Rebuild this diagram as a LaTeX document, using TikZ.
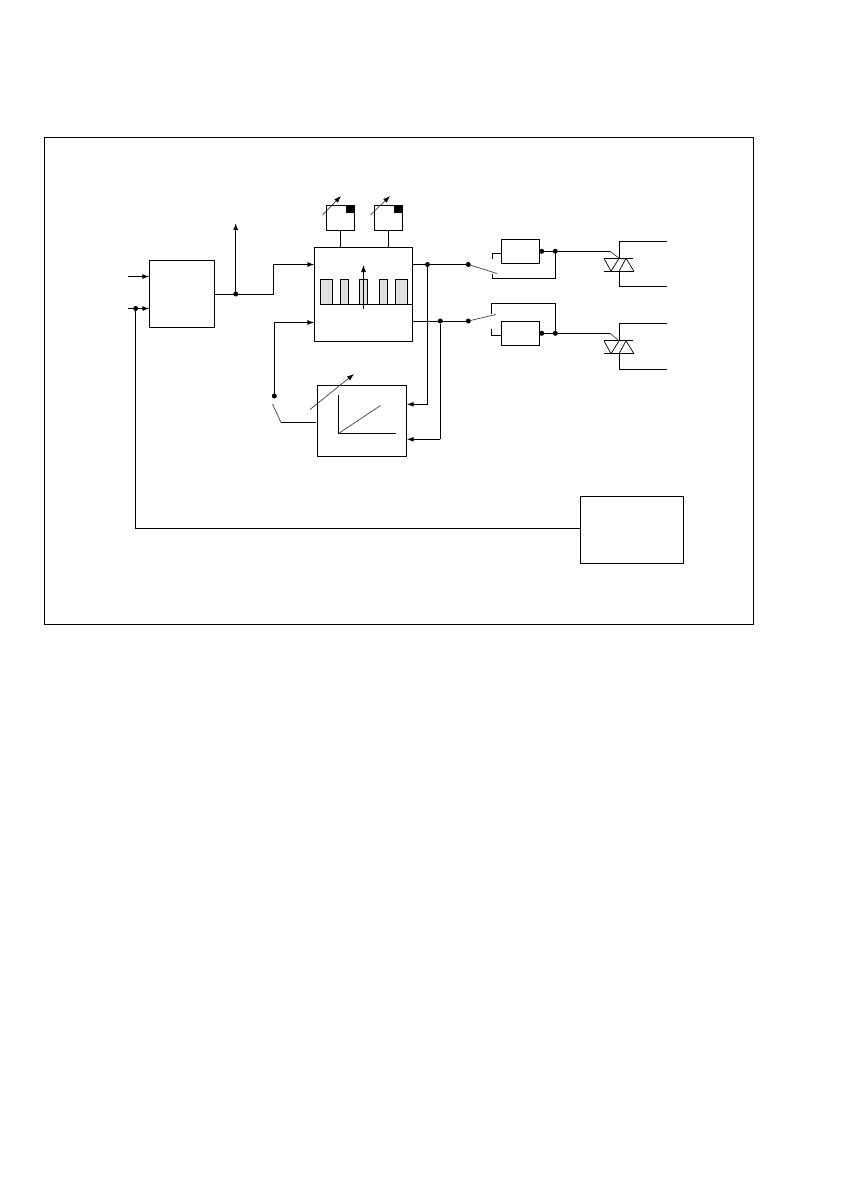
\documentclass[tikz,border=0pt]{standalone}
\usetikzlibrary{arrows.meta}
\tikzset{
  blk/.style={draw=black,line width=1pt,inner sep=0pt,outer sep=0pt,fill=white},
  bar/.style={draw=black,line width=0.9pt,fill=black!12,inner sep=0pt,outer sep=0pt,minimum height=25pt},
  knob/.style={fill=black,inner sep=0pt,outer sep=0pt,minimum width=9pt,minimum height=8pt},
  jdot/.style={circle,fill=black,inner sep=0pt,outer sep=0pt,minimum size=5pt},
  wire/.style={line width=1pt,line join=miter},
  arr/.style={wire,-{Latex[length=7pt,width=5pt]}},
  thin wire/.style={line width=0.7pt,black!75},
  thin arr/.style={line width=0.7pt,black!75,-{Latex[length=7pt,width=5pt,black]}}
}
\newcommand{\triacsym}[2]{%
  \coordinate (#1tt) at (619.3,#2);
  \coordinate (#1tb) at (619.3,{#2+13});
  \coordinate (#1th) at (619.3,{#2-17});
  \coordinate (#1he) at (667,{#2-17});
  \coordinate (#1tl) at (619.3,{#2+28.5});
  \coordinate (#1le) at (667,{#2+28.5});
  \draw[wire] (604,#2) -- (633,#2);
  \draw[wire] (604,{#2+13}) -- (634,{#2+13});
  \draw[thin wire,black] (604,#2) -- (611,{#2+13}) -- (619,#2);
  \draw[thin wire,black] (619,{#2+13}) -- (626,#2) -- (634,{#2+13});
  \draw[wire] (#1he) -- (#1th) -- (#1tt);
  \draw[wire] (#1tb) -- (#1tl) -- (#1le);
}
\begin{document}
\begin{tikzpicture}[x=1pt,y=-1pt]
\useasboundingbox (0,0) rectangle (840,1190);
% frame
\node[blk,fill=none,minimum width=709pt,minimum height=487.5pt] (frame) at (398.5,380.8) {};
% boxes
\node[blk,minimum width=65.4pt,minimum height=67pt] (ctl) at (182,293.8) {};
\node[blk,minimum width=98.4pt,minimum height=94.4pt] (pwm) at (363.5,294.5) {};
\node[blk,minimum width=28.4pt,minimum height=25.4pt] (s1) at (340.5,218) {};
\node[blk,minimum width=28.4pt,minimum height=25.4pt] (s2) at (388.5,218) {};
\node[knob] (k1) at (350.3,209.3) {};
\node[knob] (k2) at (398.3,209.3) {};
\node[blk,minimum width=89.4pt,minimum height=71pt] (ramp) at (362,420.8) {};
\node[blk,minimum width=103.6pt,minimum height=67.6pt] (sens) at (632,530) {};
\node[blk,minimum width=38.4pt,minimum height=24pt] (d1) at (520.5,251.3) {};
\node[blk,minimum width=38.4pt,minimum height=24pt] (d2) at (520.5,333.3) {};
% pulse bars
\node[bar,minimum width=12.4pt] (b1) at (326.5,291.8) {};
\node[bar,minimum width=8.4pt] (b2) at (344.5,291.8) {};
\node[bar,minimum width=8.4pt] (b3) at (363.5,291.8) {};
\node[bar,minimum width=8.4pt] (b4) at (383.5,291.8) {};
\node[bar,minimum width=12.4pt] (b5) at (401.5,291.8) {};
\coordinate (bs) at (320,304.5);
\coordinate (be) at (412,304.5);
\draw[wire] (bs) -- (be);
\coordinate (pa) at (363.5,309);
\coordinate (pb) at (363.5,265);
\draw[arr,line width=0.8pt] (pa) -- (pb);
% knob links
\draw[wire] (s1.south) -- (s1.south |- pwm.north);
\draw[wire] (s2.south) -- (s2.south |- pwm.north);
\coordinate (a1s) at (322.5,215); \coordinate (a1e) at (341,196);
\coordinate (a2s) at (370.5,215); \coordinate (a2e) at (390,196);
\draw[thin arr] (a1s) -- (a1e);
\draw[thin arr] (a2s) -- (a2e);
% inputs
\coordinate (in1) at (128,276.5);
\coordinate (in2) at (128,308.5);
\node[jdot] (fbj) at (135.7,308.5) {};
\draw[arr] (in1) -- (in1 -| ctl.west);
\draw[arr] (in2) -- (in2 -| ctl.west);
% feedback
\coordinate (fbc) at (135.7,528);
\draw[wire] (fbj) -- (fbc) -- (fbc -| sens.west);
% ctl output
\node[jdot] (oj) at (235.7,294) {};
\coordinate (up) at (235.7,223);
\coordinate (k) at (273.3,294);
\coordinate (k2a) at (273.3,264.5);
\draw[wire] (ctl.east |- oj) -- (k) -- (k2a);
\draw[arr] (k2a) -- (k2a -| pwm.west);
\draw[arr] (oj) -- (up);
% ramp loop
\node[jdot] (rj) at (274.3,396) {};
\coordinate (rt) at (274.3,322.5);
\draw[wire] (rj) -- (rt);
\draw[arr] (rt) -- (rt -| pwm.west);
\coordinate (rs1) at (272.5,404);
\coordinate (rs2) at (281,422.5);
\coordinate (rs3) at (316,422.5);
\draw[thin wire] (rs1) -- (rs2);
\draw[wire] (rs2) -- (rs3);
\coordinate (ra1) at (310,409.5); \coordinate (ra2) at (354,374);
\draw[thin arr] (ra1) -- (ra2);
\coordinate (ax) at (338.5,395); \coordinate (ao) at (338.5,433.5); \coordinate (ay) at (396,433.5);
\coordinate (ad) at (380.5,405.5);
\draw[wire] (ax) -- (ao) -- (ay);
\draw[thin wire] (ao) -- (ad);
% pwm outputs
\node[jdot] (j1) at (427.5,264.5) {};
\node[jdot] (j2) at (440.3,321) {};
\node[jdot] (sw1) at (468.3,264.5) {};
\node[jdot] (sw2) at (468.3,321) {};
\draw[wire] (pwm.east |- j1) -- (sw1);
\draw[wire] (pwm.east |- j2) -- (sw2);
\coordinate (c1) at (427.5,404.3);
\coordinate (c2) at (440.3,439.3);
\draw[wire] (j1) -- (c1);
\draw[wire] (j2) -- (c2);
\draw[arr] (c1) -- (c1 -| ramp.east);
\draw[arr] (c2) -- (c2 -| ramp.east);
% upper switch
\node[jdot] (e1) at (541.7,251.3) {};
\node[jdot] (n1) at (555.3,251.3) {};
\coordinate (bl1) at (497,273.5);
\draw[thin wire] (sw1) -- (bl1);
\coordinate (u1) at (492.7,274); \coordinate (u2) at (492.7,278.3); \coordinate (u3) at (555.3,278.3);
\draw[wire] (u1) -- (u2) -- (u3) -- (n1);
\coordinate (st1) at (492.7,259.3); \coordinate (st2) at (492.7,253.5);
\draw[wire] (st1) -- (st2) -- (st2 -| d1.west);
\draw[wire] (d1.east |- e1) -- (n1);
% lower switch
\node[jdot] (e2) at (541.7,333.3) {};
\node[jdot] (n2) at (555.3,333.3) {};
\coordinate (bl2) at (496,314.5);
\draw[thin wire] (sw2) -- (bl2);
\coordinate (l1) at (491.5,314); \coordinate (l2) at (491.5,303.3); \coordinate (l3) at (555.3,303.3);
\draw[wire] (l1) -- (l2) -- (l3) -- (n2);
\coordinate (st3) at (491.5,329); \coordinate (st4) at (491.5,335.3);
\draw[wire] (st3) -- (st4) -- (st4 -| d2.west);
\draw[wire] (d2.east |- e2) -- (n2);
% triacs
\triacsym{p}{258.3}
\triacsym{q}{340.8}
\coordinate (g1) at (610,251.3); \coordinate (g1e) at (619,258);
\coordinate (g2) at (610,333.3); \coordinate (g2e) at (619,340.8);
\draw[wire] (n1) -- (g1);
\draw[thin wire] (g1) -- (g1e);
\draw[wire] (n2) -- (g2);
\draw[thin wire] (g2) -- (g2e);
\end{tikzpicture}
\end{document}
